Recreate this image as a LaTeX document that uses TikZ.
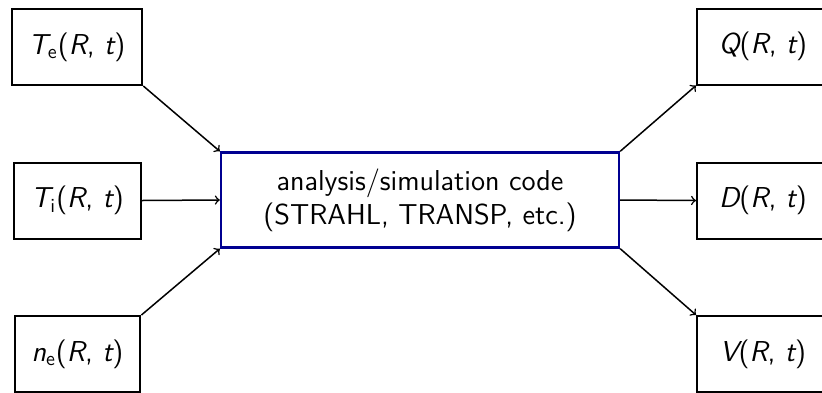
\documentclass[tikz,border=0pt]{standalone}
\definecolor{codeblue}{RGB}{0,0,145}
\begin{document}
\begin{tikzpicture}[x=0.5pt,y=-0.5pt,
  box/.style={draw, line width=1pt, font=\fontsize{14.4pt}{17pt}\sffamily, minimum height=38pt, inner xsep=8.5pt},
  rbox/.style={box, minimum width=66pt, anchor=west},
  mainbox/.style={draw=codeblue, line width=1.2pt, font=\fontsize{14.4pt}{17pt}\sffamily, minimum width=199pt, minimum height=47.5pt, align=center},
  arr/.style={->, line width=0.75pt}]
\useasboundingbox (0,0) rectangle (822,392);
\clip (0,0) rectangle (822,392);
\node[box] (te) at (77,47) {{\itshape T}\textsubscript{e}({\itshape R}, {\itshape t})};
\node[box] (ti) at (77.5,200.5) {{\itshape T}\textsubscript{i}({\itshape R}, {\itshape t})};
\node[box] (ne) at (77.5,354) {{\itshape n}\textsubscript{e}({\itshape R}, {\itshape t})};
\node[mainbox] (c) at (420,200) {analysis/simulation code\\(STRAHL, TRANSP, etc.)};
\node[rbox] (q) at (696,46.5) {{\itshape Q}({\itshape R}, {\itshape t})};
\node[rbox] (d) at (696,200.5) {{\itshape D}({\itshape R}, {\itshape t})};
\node[rbox] (v) at (696,354) {{\itshape V}({\itshape R}, {\itshape t})};
\draw[arr] (te.south east) -- (c.north west);
\draw[arr] (ti.east) -- (c.west);
\draw[arr] (ne.north east) -- (c.south west);
\draw[arr] (c.north east) -- (q.south west);
\draw[arr] (c.east) -- (d.west);
\draw[arr] (c.south east) -- (v.north west);
\end{tikzpicture}
\end{document}
